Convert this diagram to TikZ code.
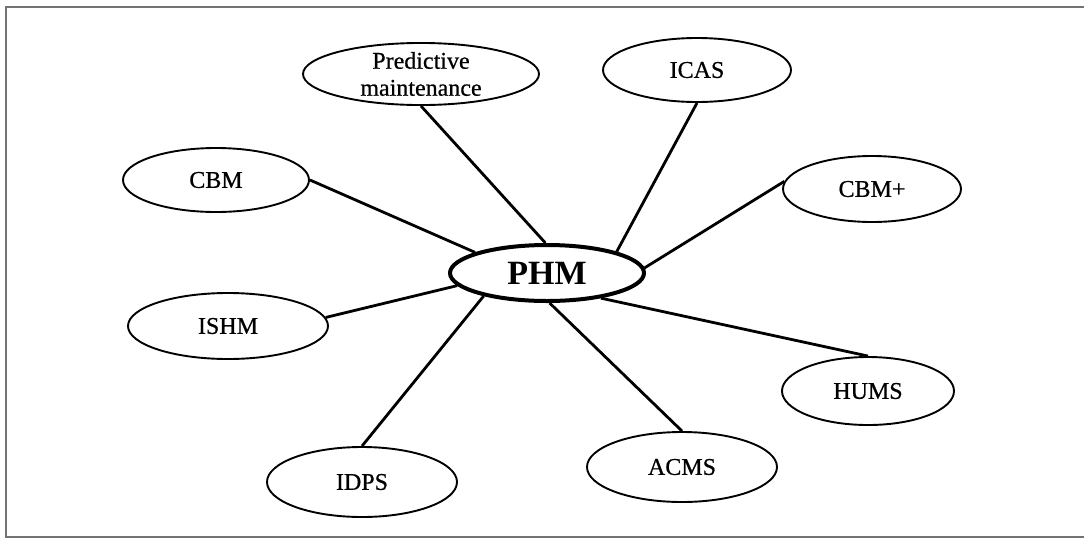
\documentclass[tikz,border=0pt]{standalone}
\usepackage{fontspec}
\setmainfont{Liberation Serif}
\newfontfamily\termfont[FakeBold=0.6]{Liberation Serif}
\usetikzlibrary{shapes.geometric}
\begin{document}
\begin{tikzpicture}[x=1pt,y=-1pt,
  term/.style={ellipse,draw,line width=1.9pt,inner sep=0pt,
    font=\termfont\fontsize{24}{27}\selectfont,align=center},
  hub/.style={ellipse,draw,line width=4pt,inner sep=0pt,
    font=\fontsize{34}{38}\bfseries},
  link/.style={line width=2.8pt}]
\useasboundingbox (0,0) rectangle (1084,539);
% frame
\draw[line width=2pt,black!55] (1084,6.5) -- (6,6.5) -- (6,537) -- (1084,537);

\node[hub,minimum width=194pt,minimum height=56pt] (phm) at (547,273) {PHM};

\node[term,minimum width=236pt,minimum height=62pt] (pred) at (421,74) {Predictive\\maintenance};
\node[term,minimum width=188pt,minimum height=64pt] (icas) at (697,70) {ICAS};
\node[term,minimum width=186pt,minimum height=64pt] (cbm) at (216,180) {CBM};
\node[term,minimum width=178pt,minimum height=66pt] (cbmp) at (872,189) {CBM+};
\node[term,minimum width=200pt,minimum height=66pt] (ishm) at (228,326) {ISHM};
\node[term,minimum width=172pt,minimum height=68pt] (hums) at (868,391) {HUMS};
\node[term,minimum width=190pt,minimum height=70pt] (acms) at (682,467) {ACMS};
\node[term,minimum width=190pt,minimum height=70pt] (idps) at (362,482) {IDPS};

% spokes
\draw[link] (pred.south) -- (phm.93);
\draw[link] (icas.south) -- (phm.17);
\draw[link] (cbm.east) -- (phm.164);
\draw[link] (cbmp.175) -- (phm.3);
\draw[link] (ishm.5) -- (phm.188);
\draw[link] (hums.north) -- (phm.-25);
\draw[link] (acms.north) -- (phm.-85);
\draw[link] (idps.north) -- (phm.200);
\end{tikzpicture}
\end{document}
